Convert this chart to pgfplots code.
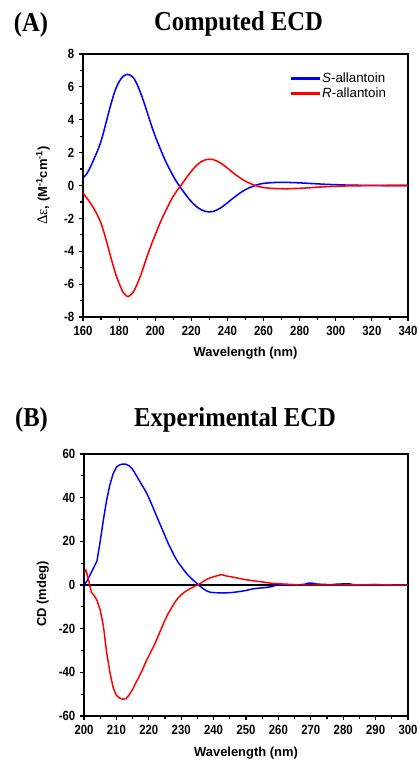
\documentclass[border=0pt]{standalone}
\usepackage{fontspec}
\setmainfont{Liberation Sans}
\newfontfamily\tickfont{Liberation Sans}[FakeStretch=0.85]
\newfontfamily\titlefont{Liberation Serif}[FakeStretch=0.9]
\newfontfamily\greekfont{Liberation Serif}
\usepackage{pgfplots}
\pgfplotsset{compat=1.18}

\pgfplotsset{
  ecd/.style={
    scale only axis,
    axis line style={line width=1.2pt},
    tick align=outside,
    xtick pos=bottom, ytick pos=left,
    major tick length=3pt,
    minor tick length=2pt,
    tick style={line width=0.9pt, black},
    minor x tick num=1, minor y tick num=1,
    ticklabel style={font=\tickfont\bfseries\fontsize{10}{11}\selectfont},
    /pgf/number format/assume math mode=true,
    label style={font=\bfseries\fontsize{9.7}{12}\selectfont},
  },
  spec/.style={line width=1.15pt, smooth, tension=0.5},
}

\begin{document}
\begin{tikzpicture}
\path[use as bounding box] (0,0) rectangle (314.25pt,-570pt);

\node[font=\titlefont\bfseries\fontsize{20.5}{24}\selectfont] at (23.25pt,-18.75pt) {(A)};
\node[font=\titlefont\bfseries\fontsize{20.5}{24}\selectfont] at (178.9pt,-18pt) {Computed ECD};
\node[font=\titlefont\bfseries\fontsize{20.5}{24}\selectfont] at (23.6pt,-315pt) {(B)};
\node[font=\titlefont\bfseries\fontsize{20.5}{24}\selectfont] at (176.25pt,-315pt) {Experimental ECD};

% (A) computed spectra
\begin{axis}[ecd,
    at={(62.25pt,-237.75pt)}, anchor=south west,
    width=243.75pt, height=197.25pt,
    xmin=160, xmax=340, ymin=-8, ymax=8,
    xtick={160,180,...,340}, ytick={-8,-6,...,8},
    xlabel={Wavelength (nm)},
    ylabel={{\greekfont\mdseries\fontsize{11}{12}\selectfont Δε}, (M\textsuperscript{-1}cm\textsuperscript{-1})},
    xlabel style={at={(axis description cs:0.5,-0.137)}, anchor=center},
    ylabel style={at={(axis description cs:-0.123,0.5)}, anchor=center},
    legend style={draw=none, fill=none, at={(0.628,0.95)}, anchor=north west,
      font=\fontsize{10}{11}\selectfont, cells={anchor=west}, row sep=-1.5pt},
]
\addplot[spec, color=blue,
  legend image code/.code={\fill[blue] (0pt,-0.65pt) rectangle (20pt,0.65pt);}]
 coordinates {
 (160,0.45)(162,0.7)(164,1.1)(166,1.6)(168,2.1)(170,2.7)(172,3.5)(174,4.35)
 (176,5.15)(178,5.85)(180,6.32)(182,6.62)(184,6.75)(185,6.76)(186,6.72)
 (188,6.55)(190,6.15)(192,5.6)(194,4.98)(196,4.3)(198,3.62)(200,3.0)
 (202,2.45)(204,1.92)(206,1.42)(208,0.98)(210,0.57)(212,0.2)(214,-0.12)
 (216,-0.42)(218,-0.72)(220,-0.98)(222,-1.2)(224,-1.38)(226,-1.5)(228,-1.58)
 (230,-1.61)(232,-1.58)(234,-1.5)(236,-1.38)(238,-1.22)(240,-1.05)(242,-0.87)
 (244,-0.7)(246,-0.53)(248,-0.38)(250,-0.25)(252,-0.14)(254,-0.05)(256,0.03)
 (258,0.09)(260,0.13)(264,0.17)(268,0.19)(272,0.19)(276,0.18)(280,0.16)
 (285,0.13)(290,0.1)(295,0.07)(300,0.05)(305,0.03)(310,0.02)(315,0.01)
 (320,0.005)(330,0)(340,0)
};
\addlegendentry{\textit{S}-allantoin}
\addplot[spec, color=red,
  legend image code/.code={\fill[red] (0pt,-0.65pt) rectangle (20pt,0.65pt);}]
 coordinates {
 (160,-0.45)(162,-0.75)(164,-1.05)(166,-1.4)(168,-1.8)(170,-2.3)(172,-3.0)
 (174,-3.8)(176,-4.6)(178,-5.35)(180,-5.95)(182,-6.45)(184,-6.72)(185,-6.75)
 (186,-6.7)(188,-6.45)(190,-6.0)(192,-5.45)(194,-4.8)(196,-4.15)(198,-3.55)
 (200,-3.0)(202,-2.45)(204,-1.95)(206,-1.5)(208,-1.05)(210,-0.65)(212,-0.32)
 (214,-0.03)(216,0.28)(218,0.58)(220,0.87)(222,1.12)(224,1.33)(226,1.48)
 (228,1.57)(230,1.6)(232,1.58)(234,1.5)(236,1.38)(238,1.23)(240,1.06)
 (242,0.88)(244,0.7)(246,0.54)(248,0.39)(250,0.26)(252,0.15)(254,0.06)
 (256,-0.02)(258,-0.08)(260,-0.12)(264,-0.17)(268,-0.19)(272,-0.2)(276,-0.19)
 (280,-0.17)(285,-0.14)(290,-0.1)(295,-0.07)(300,-0.05)(305,-0.03)(310,-0.02)
 (320,-0.005)(330,0)(340,0)
};
\addlegendentry{\textit{R}-allantoin}
\end{axis}

% (B) experimental spectra
\begin{axis}[ecd,
    at={(63pt,-537pt)}, anchor=south west,
    width=243pt, height=196.5pt,
    xmin=200, xmax=300, ymin=-60, ymax=60,
    xtick={200,210,...,300}, ytick={-60,-40,...,60},
    xlabel={Wavelength (nm)},
    ylabel={CD (mdeg)},
    xlabel style={at={(axis description cs:0.5,-0.141)}, anchor=center},
    ylabel style={at={(axis description cs:-0.127,0.466)}, anchor=center},
]
\addplot[black, line width=1.1pt] coordinates {(200,0)(300,0)};
\addplot[blue, line width=1.1pt] coordinates {
 (200,0)(201,2)(202,5)(203,8)(204,11)(205,20)(206,30)(207,39)(208,46)(209,51)
 (210,54)(211,55)(212,55.4)(213,55.3)(214,54.5)(215,53)(216,50.5)(217,48)
 (218,45.5)(219,43)(220,40)(221,36.5)(222,33)(223,29.5)(224,26)(225,22.5)
 (226,19)(227,16)(228,13)(229,10.5)(230,8.5)(231,6.5)(232,4.7)(233,3.2)
 (234,1.8)(235,0.5)(236,-0.8)(237,-1.9)(238,-2.8)(239,-3.3)(240,-3.5)
 (242,-3.6)(244,-3.6)(246,-3.4)(248,-3)(250,-2.5)(252,-1.8)(254,-1.4)
 (256,-1.2)(258,-0.7)(259,-0.2)(260,0)(262,0.1)(264,0)(266,0.1)(268,0.3)
 (269,0.8)(270,0.9)(271,0.7)(272,0.4)(274,0.3)(276,0.1)(278,0.4)(280,0.5)
 (282,0.5)(283,0.2)(285,0)(288,0.1)(290,0.2)(292,0)(295,0)(300,0)
};
\addplot[red, line width=1.1pt] coordinates {
 (200,5.5)(200.6,6.8)(201.3,3)(202.3,-3.5)(203,-4.5)(204,-7)(205,-11.5)
 (206,-19)(207,-31)(208,-40)(209,-47)(210,-50.5)(211,-51.8)(212,-52.3)
 (213,-52)(214,-50.2)(215,-47.8)(216,-44.8)(217,-42)(218,-39)(219,-35.5)
 (220,-32.5)(221,-29.5)(222,-26.5)(223,-23)(224,-19.5)(225,-16)(226,-13)
 (227,-10.5)(228,-8)(229,-6)(230,-4.5)(231,-3.3)(232,-2.3)(233,-1.5)
 (234,-0.7)(235,0)(236,0.8)(237,1.8)(238,2.7)(239,3.3)(240,3.8)(241,4.2)
 (242,4.6)(243,4.6)(244,4.1)(246,3.6)(248,3.0)(250,2.4)(252,2.0)(254,1.6)
 (256,1.2)(258,0.8)(260,0.6)(262,0.4)(264,0.3)(266,0)(270,0)(275,0)(280,0)
 (285,0.1)(290,0.2)(295,0)(300,0)
};
\end{axis}
\end{tikzpicture}
\end{document}
